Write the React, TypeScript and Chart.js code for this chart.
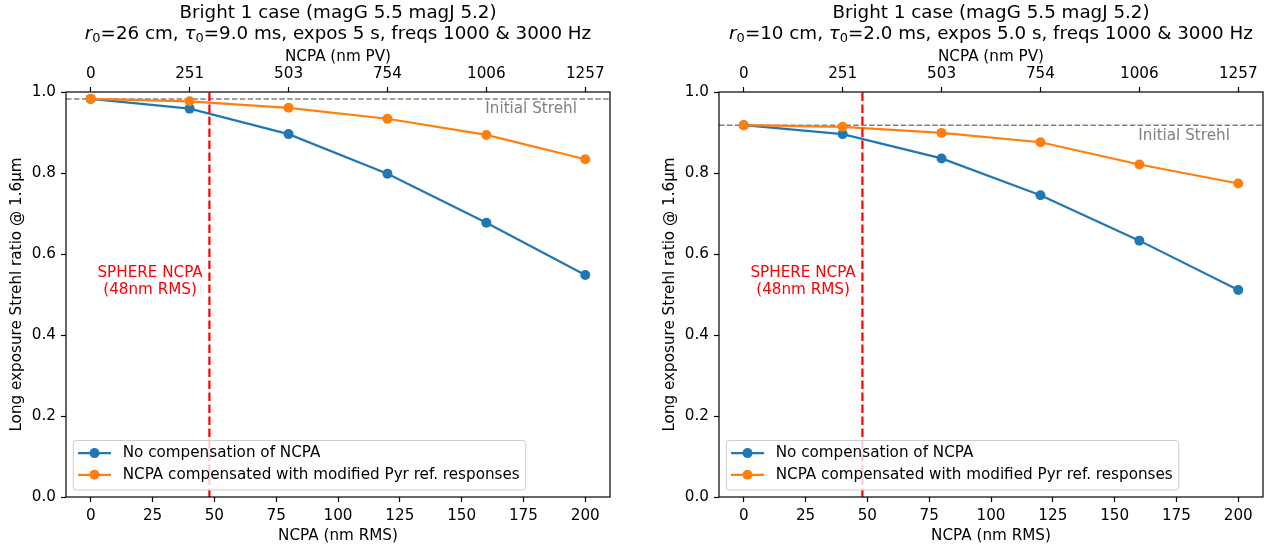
import React, { useEffect, useRef } from 'react';
import { Chart, registerables } from 'chart.js';
Chart.register(...registerables);

// ---- data ----
const rmsValues = [0, 40, 80, 120, 160, 200];
const pvTickLabels = ['0', '251', '503', '754', '1006', '1257'];
const rmsTicks = [0, 25, 50, 75, 100, 125, 150, 175, 200];
const yTicks = [0, 0.2, 0.4, 0.6, 0.8, 1.0];

const leftNoComp = [0.983, 0.959, 0.896, 0.798, 0.677, 0.548];
const leftComp = [0.983, 0.977, 0.961, 0.934, 0.894, 0.834];
const leftInitial = 0.983;

const rightNoComp = [0.918, 0.896, 0.836, 0.745, 0.633, 0.511];
const rightComp = [0.918, 0.914, 0.899, 0.876, 0.821, 0.774];
const rightInitial = 0.918;

const sphereNcpa = 48;
const seriesLabels = ['No compensation of NCPA', 'NCPA compensated with modified Pyr ref. responses'];
const titleLine1 = 'Bright 1 case (magG 5.5 magJ 5.2)';
const leftParams = ['26', '9.0', '5'];
const rightParams = ['10', '2.0', '5.0'];

const FONT = '"DejaVu Sans", sans-serif';
const FS = 15.2;
const TFS = 18.3;
const BLUE = '#1f77b4';
const ORANGE = '#ff7f0e';

type PanelProps = {
  noComp: number[];
  comp: number[];
  initial: number;
  params: string[];
  width: number;
  padLeft: number;
  padRight: number;
};

function makeOverlay(props: PanelProps) {
  return {
    id: 'overlay',
    afterDraw(chart: any) {
      const { ctx, chartArea: a, scales } = chart;
      const xs = scales.x;
      const ys = scales.y;
      ctx.save();
      // spines
      ctx.strokeStyle = '#000';
      ctx.lineWidth = 1.2;
      ctx.strokeRect(a.left, a.top, a.right - a.left, a.bottom - a.top);

      // Initial Strehl text
      ctx.font = `${FS}px ${FONT}`;
      ctx.fillStyle = '#808080';
      ctx.textAlign = 'right';
      ctx.textBaseline = 'middle';
      ctx.fillText('Initial Strehl', xs.getPixelForValue(196.6), ys.getPixelForValue(props.initial) + 10.5);

      // SPHERE text
      ctx.fillStyle = '#ff0000';
      ctx.textAlign = 'center';
      const cx = xs.getPixelForValue(sphereNcpa / 2);
      ctx.fillText('SPHERE NCPA', cx, ys.getPixelForValue(0.554));
      ctx.fillText('(48nm RMS)', cx, ys.getPixelForValue(0.511));

      // legend
      ctx.font = `${FS}px ${FONT}`;
      const tw = Math.max(...seriesLabels.map((s) => ctx.measureText(s).width));
      const bx = a.left + 7.3;
      const bb = a.bottom - 7;
      const bh = 49.5;
      const textOff = 49.4;
      const bw = textOff + tw + 6;
      const bt = bb - bh;
      ctx.beginPath();
      const r = 3;
      ctx.moveTo(bx + r, bt);
      ctx.lineTo(bx + bw - r, bt);
      ctx.arcTo(bx + bw, bt, bx + bw, bt + r, r);
      ctx.lineTo(bx + bw, bb - r);
      ctx.arcTo(bx + bw, bb, bx + bw - r, bb, r);
      ctx.lineTo(bx + r, bb);
      ctx.arcTo(bx, bb, bx, bb - r, r);
      ctx.lineTo(bx, bt + r);
      ctx.arcTo(bx, bt, bx + r, bt, r);
      ctx.closePath();
      ctx.fillStyle = 'rgba(255,255,255,0.8)';
      ctx.fill();
      ctx.strokeStyle = '#cccccc';
      ctx.lineWidth = 1;
      ctx.stroke();
      const rows = [bt + 12.6, bt + 34.3];
      const cols = [BLUE, ORANGE];
      rows.forEach((ry, i) => {
        ctx.strokeStyle = cols[i];
        ctx.lineWidth = 2.2;
        ctx.beginPath();
        ctx.moveTo(bx + 4.7, ry);
        ctx.lineTo(bx + 37.7, ry);
        ctx.stroke();
        ctx.fillStyle = cols[i];
        ctx.beginPath();
        ctx.arc(bx + 21.2, ry, 5, 0, Math.PI * 2);
        ctx.fill();
        ctx.fillStyle = '#000';
        ctx.textAlign = 'left';
        ctx.textBaseline = 'middle';
        ctx.fillText(seriesLabels[i], bx + textOff, ry);
      });

      // titles
      const tcx = (a.left + a.right) / 2;
      ctx.fillStyle = '#000';
      ctx.textAlign = 'center';
      ctx.textBaseline = 'alphabetic';
      ctx.font = `${TFS}px ${FONT}`;
      ctx.fillText(titleLine1, tcx, 18);

      const [r0, tau, expos] = props.params;
      const normal = `${TFS}px ${FONT}`;
      const ital = `italic ${TFS}px ${FONT}`;
      const sub = `${Math.round(TFS * 0.7)}px ${FONT}`;
      const segs = [
        { t: 'r', f: ital, dy: 0 },
        { t: '0', f: sub, dy: 3 },
        { t: `=${r0} cm, `, f: normal, dy: 0 },
        { t: 'τ', f: ital, dy: 0 },
        { t: '0', f: sub, dy: 3 },
        { t: `=${tau} ms, expos ${expos} s, freqs 1000 & 3000 Hz`, f: normal, dy: 0 },
      ];
      let total = 0;
      const ws = segs.map((s) => {
        ctx.font = s.f;
        const w = ctx.measureText(s.t).width;
        total += w;
        return w;
      });
      let x = tcx - total / 2;
      ctx.textAlign = 'left';
      segs.forEach((s, i) => {
        ctx.font = s.f;
        ctx.fillText(s.t, x, 39 + s.dy);
        x += ws[i];
      });
      ctx.restore();
    },
  };
}

function Panel(props: PanelProps) {
  const ref = useRef<HTMLCanvasElement>(null);
  useEffect(() => {
    const canvas = ref.current!;
    const tickFont = { family: FONT, size: FS };
    const grid = {
      display: true,
      drawOnChartArea: false,
      drawTicks: true,
      tickLength: 5,
      tickColor: '#000',
      tickWidth: 1.2,
    };
    const chart = new Chart(canvas, {
      type: 'line',
      data: {
        datasets: [
          {
            label: seriesLabels[0],
            data: rmsValues.map((x, i) => ({ x, y: props.noComp[i] })),
            borderColor: BLUE,
            backgroundColor: BLUE,
            borderWidth: 2.2,
            pointRadius: 5,
            pointBorderWidth: 0,
            order: 2,
          },
          {
            label: seriesLabels[1],
            data: rmsValues.map((x, i) => ({ x, y: props.comp[i] })),
            borderColor: ORANGE,
            backgroundColor: ORANGE,
            borderWidth: 2.2,
            pointRadius: 5,
            pointBorderWidth: 0,
            order: 1,
          },
          {
            label: 'initial',
            data: [
              { x: -10, y: props.initial },
              { x: 210, y: props.initial },
            ],
            borderColor: '#808080',
            borderWidth: 1.5,
            borderDash: [5.5, 2.4],
            pointRadius: 0,
            order: 3,
          },
          {
            label: 'sphere',
            data: [
              { x: sphereNcpa, y: 0 },
              { x: sphereNcpa, y: 1 },
            ],
            borderColor: '#ff0000',
            borderWidth: 2.2,
            borderDash: [8.4, 3.6],
            pointRadius: 0,
            order: 0,
          },
        ],
      },
      options: {
        animation: false,
        responsive: false,
        events: [],
        layout: { padding: { top: 45, left: props.padLeft, right: props.padRight, bottom: 0 } },
        plugins: { legend: { display: false }, tooltip: { enabled: false }, title: { display: false } },
        scales: {
          x: {
            type: 'linear',
            position: 'bottom',
            min: -10,
            max: 210,
            afterBuildTicks: (s: any) => {
              s.ticks = rmsTicks.map((v) => ({ value: v }));
            },
            afterFit: (s: any) => {
              s.height = 51;
            },
            ticks: { font: tickFont, color: '#000', padding: 5, maxRotation: 0, autoSkip: false, callback: (v: any) => String(v) },
            grid,
            border: { display: false },
            title: { display: true, text: 'NCPA (nm RMS)', font: tickFont, color: '#000', padding: { top: 0, bottom: 3 } },
          },
          x2: {
            type: 'linear',
            position: 'top',
            min: -10,
            max: 210,
            afterBuildTicks: (s: any) => {
              s.ticks = rmsValues.map((v) => ({ value: v }));
            },
            afterFit: (s: any) => {
              s.height = 47;
            },
            ticks: {
              font: tickFont,
              color: '#000',
              padding: 4,
              maxRotation: 0,
              autoSkip: false,
              callback: (v: any) => {
                const i = rmsValues.indexOf(Number(v));
                return i >= 0 ? pvTickLabels[i] : '';
              },
            },
            grid,
            border: { display: false },
            title: { display: true, text: 'NCPA (nm PV)', font: tickFont, color: '#000', padding: { top: 3, bottom: 0 } },
          },
          y: {
            type: 'linear',
            position: 'left',
            min: 0,
            max: 1,
            afterBuildTicks: (s: any) => {
              s.ticks = yTicks.map((v) => ({ value: v }));
            },
            afterFit: (s: any) => {
              s.width = 66;
            },
            ticks: { font: tickFont, color: '#000', padding: 5, callback: (v: any) => Number(v).toFixed(1) },
            grid,
            border: { display: false },
            title: {
              display: true,
              text: 'Long exposure Strehl ratio @ 1.6µm',
              font: tickFont,
              color: '#000',
              padding: { top: 8, bottom: 0 },
            },
          },
        },
      },
      plugins: [makeOverlay(props)],
    } as any);
    return () => chart.destroy();
  }, []);
  return <canvas ref={ref} width={props.width} height={548} style={{ display: 'block', width: props.width, height: 548 }} />;
}

export default function App() {
  return (
    <div style={{ position: 'absolute', left: 0, top: 0, width: 1271, height: 548, display: 'flex', background: '#fff' }}>
      <Panel noComp={leftNoComp} comp={leftComp} initial={leftInitial} params={leftParams} width={635} padLeft={0} padRight={25} />
      <Panel noComp={rightNoComp} comp={rightComp} initial={rightInitial} params={rightParams} width={636} padLeft={18} padRight={8} />
    </div>
  );
}
